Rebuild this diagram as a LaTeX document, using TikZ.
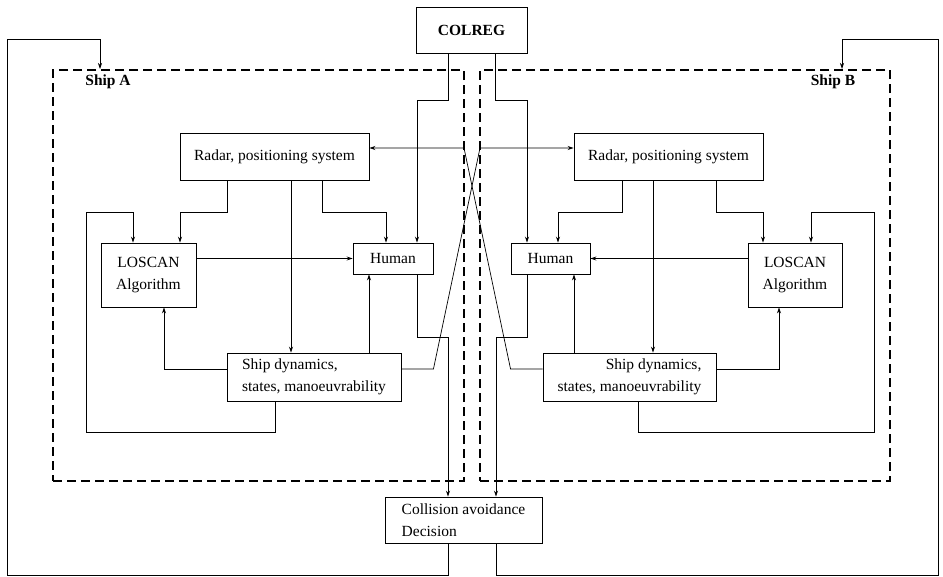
\documentclass[tikz,border=0pt]{standalone}
\usepackage{fontspec}
\setmainfont{Liberation Serif}
\usetikzlibrary{arrows.meta}

\begin{document}
\begin{tikzpicture}[x=1pt,y=-1pt,line width=0.7pt,
    box/.style={draw, line width=0.9pt, rectangle, inner sep=0pt, font=\fontsize{15.5}{22}\selectfont},
    bf/.style={font=\fontsize{15.5}{22}\selectfont\bfseries},
    shipbox/.style={draw, line width=2pt, dash pattern=on 9pt off 5pt, rectangle, inner sep=0pt},
    arr/.style={-{Stealth[length=6pt,width=4pt]}}]
        \useasboundingbox (0,0) rectangle (943,576);

        % the two ships
        \node[shipbox, minimum width=411pt, minimum height=411pt] (shipA) at (258.5,275.5) {};
        \node[shipbox, minimum width=410pt, minimum height=411pt] (shipB) at (685,275.5) {};
        \node[bf] (labA) at (108,82) {Ship A};
        \node[bf] (labB) at (833,82) {Ship B};

        \node[box, bf, minimum width=111pt, minimum height=46pt] (colreg) at (471.5,30) {COLREG};
        \node[box, align=left, minimum width=157pt, minimum height=46pt] (coll) at (463.5,520) {Collision avoidance\\Decision};

        % ship A
        \node[box, minimum width=189pt, minimum height=47pt] (radarA) at (274.5,156.5) {Radar, positioning system};
        \node[box, align=center, minimum width=95pt, minimum height=64pt] (loscanA) at (148.5,275) {LOSCAN\\Algorithm};
        \node[box, minimum width=80pt, minimum height=31pt] (humanA) at (393,258.5) {Human};
        \node[box, align=left, minimum width=174pt, minimum height=48pt] (dynA) at (314,377) {Ship dynamics,\\states, manoeuvrability};

        % ship B
        \node[box, minimum width=189pt, minimum height=47pt] (radarB) at (668.5,156.5) {Radar, positioning system};
        \node[box, align=center, minimum width=94pt, minimum height=64pt] (loscanB) at (795,275) {LOSCAN\\Algorithm};
        \node[box, minimum width=79pt, minimum height=31pt] (humanB) at (550.5,258.5) {Human};
        \node[box, align=right, minimum width=173pt, minimum height=48pt] (dynB) at (629.5,377) {Ship dynamics,\\states, manoeuvrability};

        \draw[arr] ([xshift=-47.5pt]radarA.south) -- ++(0,32) -| ([xshift=31.5pt]loscanA.north);
        \draw[arr] ([xshift=16.5pt]radarA.south) -- ([xshift=-23pt]dynA.north);
        \draw[arr] ([xshift=47.5pt]radarA.south) -- ++(0,32) -| ([xshift=-7pt]humanA.north);
        \draw[arr] ([xshift=-23.5pt]colreg.south) -- ++(0,47) -| ([xshift=24pt]humanA.north);
        \draw[arr] ([xshift=-39pt]dynA.south) -- ++(0,31) -| (86,212) -| ([xshift=-15.5pt]loscanA.north);
        \draw[arr] (loscanA.east |- humanA.west) -- (humanA.west);
        \draw[arr] ([yshift=8pt]dynA.west) -| ([xshift=15.5pt]loscanA.south);
        \draw[arr] ([xshift=55pt]dynA.north) -- ([xshift=-24pt]humanA.south);
        \draw[arr] ([xshift=24pt]humanA.south) -- ++(0,63) -| ([xshift=-15.5pt]coll.north);
        \draw[arr] ([yshift=8pt]dynA.east) -- ++(32,0) -- (480,148) -- ([yshift=8.5pt]radarB.west);

        \draw[arr] ([xshift=-46.5pt]radarB.south) -- ++(0,32) -| ([xshift=7.5pt]humanB.north);
        \draw[arr] ([xshift=-15.5pt]radarB.south) -- ([xshift=23.5pt]dynB.north);
        \draw[arr] ([xshift=47.5pt]radarB.south) -- ++(0,32) -| ([xshift=-32pt]loscanB.north);
        \draw[arr] ([xshift=23.5pt]colreg.south) -- ++(0,47) -| ([xshift=-23.5pt]humanB.north);
        \draw[arr] ([xshift=8.5pt]dynB.south) -- ++(0,31) -| (874,212) -| ([xshift=16pt]loscanB.north);
        \draw[arr] (loscanB.west |- humanB.east) -- (humanB.east);
        \draw[arr] ([yshift=8pt]dynB.east) -| ([xshift=-16pt]loscanB.south);
        \draw[arr] ([xshift=-55.5pt]dynB.north) -- ([xshift=23.5pt]humanB.south);
        \draw[arr] ([xshift=-23.5pt]humanB.south) -- ++(0,63) -| ([xshift=32.5pt]coll.north);
        \draw[arr] ([yshift=8pt]dynB.west) -- ++(-32,0) -- (464,148) -- ([yshift=8.5pt]radarA.east);

        % decision back to the ships
        \draw[arr] ([xshift=-15.5pt]coll.south) -- ++(0,32) -| (7,39) -| ([xshift=-158.5pt]shipA.north);
        \draw[arr] ([xshift=32.5pt]coll.south) -- ++(0,32) -| (938,39) -| ([xshift=157pt]shipB.north);
    \end{tikzpicture}
\end{document}
